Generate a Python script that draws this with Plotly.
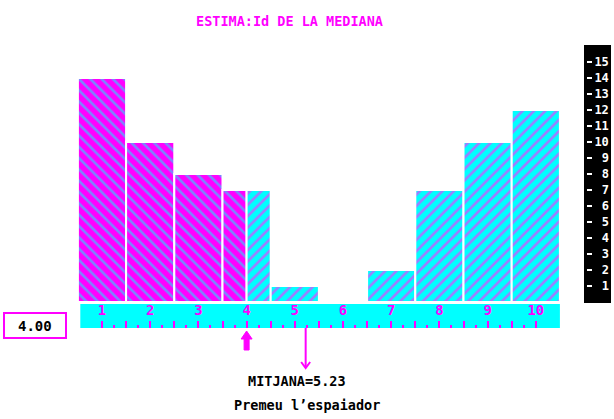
import plotly.graph_objects as go

# ---- data ----
categories = [1, 2, 3, 4, 5, 6, 7, 8, 9, 10]
counts = [14, 10, 8, 7, 1, 0, 2, 7, 10, 12]
slider_value = 4.00          # user's median estimate
y_ticks = list(range(1, 16))
title_text = "ESTIMA:Id DE LA MEDIANA"
prompt_text = "Premeu l\u2019espaiador"

MAG = "#ff00ff"
CYA = "#00ffff"
FONT = "DejaVu Sans Mono"

W, H = 614, 419
PLOT_W = 586
X0PX, XS = 102.0, 48.2     # pixel of x=1, pixels per unit
Y0PX, YS = 302.0, 16.0     # pixel of y=0, pixels per unit


def X(px):
    return 1 + (px - X0PX) / XS


def Y(py):
    return (Y0PX - py) / YS


def PX(v):
    return X0PX + (v - 1) * XS


mean_value = sum(c * v for c, v in zip(categories, counts)) / sum(counts)

# split bars at the slider value
mx, mw, my, cx, cw, cy = [], [], [], [], [], []
for c, v in zip(categories, counts):
    if v == 0:
        continue
    left, right = c - 0.5, c + 0.5
    if left < slider_value:
        r = min(right, slider_value)
        mx.append((left + r) / 2); mw.append(r - left); my.append(v)
    if right > slider_value:
        l = max(left, slider_value)
        cx.append((l + right) / 2); cw.append(right - l); cy.append(v)

fig = go.Figure()
fig.add_trace(go.Bar(
    x=mx, y=my, width=mw,
    marker=dict(color=MAG, line=dict(color="white", width=2),
                pattern=dict(shape="\\", fillmode="replace", bgcolor=MAG,
                             fgcolor="#7b86ff", size=8, solidity=0.33)),
    showlegend=False, hoverinfo="skip"))
fig.add_trace(go.Bar(
    x=cx, y=cy, width=cw,
    marker=dict(color=CYA, line=dict(color="white", width=2),
                pattern=dict(shape="/", fillmode="replace", bgcolor=CYA,
                             fgcolor="#a07bff", size=8, solidity=0.33)),
    showlegend=False, hoverinfo="skip"))

shapes = []
# cyan scale band
shapes.append(dict(type="rect", xref="x", yref="y",
                   x0=categories[0] - 0.45, x1=categories[-1] + 0.5,
                   y0=Y(304), y1=Y(328), fillcolor=CYA, line=dict(width=0),
                   layer="below"))
# black y-axis box
shapes.append(dict(type="rect", xref="paper", yref="paper",
                   x0=584 / PLOT_W, x1=611 / PLOT_W, y0=1 - 303 / H, y1=1 - 45 / H,
                   fillcolor="black", line=dict(width=0), layer="below"))
# value box
shapes.append(dict(type="rect", xref="paper", yref="paper",
                   x0=4 / PLOT_W, x1=66 / PLOT_W, y0=1 - 338 / H, y1=1 - 313 / H,
                   fillcolor="white", line=dict(color=MAG, width=2)))
# slider up arrow
sp = PX(slider_value)
pts = [(sp, 331), (sp + 5.5, 339), (sp + 2.5, 339), (sp + 2.5, 350),
       (sp - 2.5, 350), (sp - 2.5, 339), (sp - 5.5, 339)]
path = "M " + " L ".join(f"{X(a)},{Y(b)}" for a, b in pts) + " Z"
shapes.append(dict(type="path", xref="x", yref="y", path=path,
                   fillcolor=MAG, line=dict(color=MAG, width=1)))
# mean line with arrow
shapes.append(dict(type="line", xref="x", yref="y", x0=mean_value, x1=mean_value,
                   y0=Y(328), y1=Y(368), line=dict(color=MAG, width=2)))
mp = PX(mean_value)
shapes.append(dict(type="path", xref="x", yref="y",
                   path=f"M {X(mp-4.5)},{Y(362)} L {X(mp)},{Y(368)} L {X(mp+4.5)},{Y(362)}",
                   line=dict(color=MAG, width=2)))

annotations = [
    dict(text=f"<b>{title_text}</b>", xref="paper", yref="paper",
         x=289 / PLOT_W, y=1 - 21 / H, xanchor="center", yanchor="middle",
         showarrow=False, font=dict(family=FONT, size=13.5, color=MAG)),
    dict(text=f"<b>{slider_value:.2f}</b>", xref="paper", yref="paper",
         x=35 / PLOT_W, y=1 - 326 / H, xanchor="center", yanchor="middle",
         showarrow=False, font=dict(family=FONT, size=14, color="black")),
    dict(text=f"<b>MITJANA={mean_value:.2f}</b>", xref="paper", yref="paper",
         x=297 / PLOT_W, y=1 - 381 / H, xanchor="center", yanchor="middle",
         showarrow=False, font=dict(family=FONT, size=13.5, color="black")),
    dict(text=f"<b>{prompt_text}</b>", xref="paper", yref="paper",
         x=307 / PLOT_W, y=1 - 405 / H, xanchor="center", yanchor="middle",
         showarrow=False, font=dict(family=FONT, size=13.5, color="black")),
]

major_vals, major_text, minor_vals = [], [], []
for c in categories:
    major_vals.append(c); major_text.append(f"<b>{c}</b>")
    if c != categories[-1]:
        major_vals.append(c + 0.5); major_text.append("")
        minor_vals += [c + 0.25, c + 0.75]

fig.update_layout(
    width=W, height=H, margin=dict(l=0, r=W - PLOT_W, t=0, b=0),
    paper_bgcolor="white", plot_bgcolor="white", barmode="overlay",
    shapes=shapes, annotations=annotations,
    xaxis=dict(range=[X(0), X(PLOT_W)], anchor="free", position=1 - 328 / H,
               side="top", showgrid=False, zeroline=False, showline=False,
               tickmode="array", tickvals=major_vals, ticktext=major_text,
               ticks="outside", ticklen=7, tickwidth=2, tickcolor=MAG,
               tickfont=dict(family=FONT, size=14, color=MAG),
               minor=dict(tickmode="array", tickvals=minor_vals, ticks="outside",
                          ticklen=3, tickwidth=2, tickcolor=MAG)),
    yaxis=dict(range=[Y(H), Y(0)], side="right", anchor="x",
               showgrid=False, zeroline=False, showline=False,
               tickmode="array", tickvals=y_ticks,
               ticktext=[("\u00a0" if t < 10 else "") + f"<b>{t}</b>" for t in y_ticks],
               ticks="outside", ticklen=5, tickwidth=1.5, tickcolor="white",
               tickfont=dict(family=FONT, size=12, color="white")),
)

fig.write_html("out.html", config={"displayModeBar": False},
               post_script="document.body.style.margin='0';document.body.style.overflow='hidden';")
